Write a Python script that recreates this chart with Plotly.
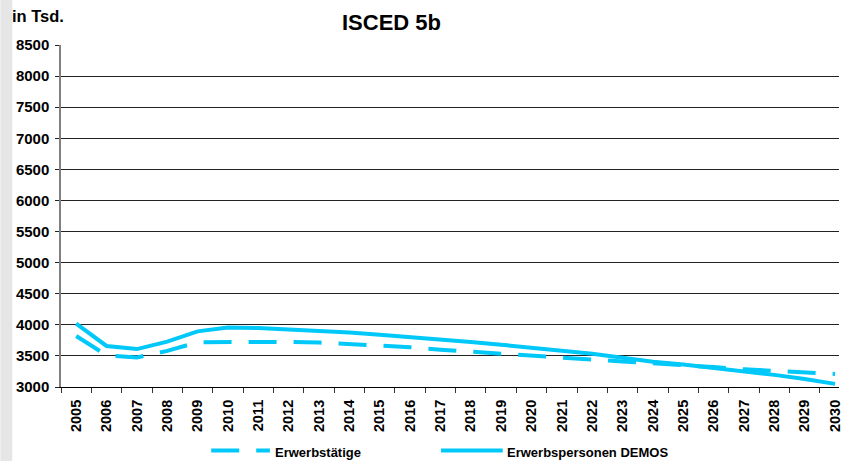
import plotly.graph_objects as go

# Jahre und Werte (in Tsd.)
jahre = [str(j) for j in range(2005, 2031)]
erwerbstaetige = [3820, 3510, 3475, 3580, 3720, 3725, 3735, 3725, 3715, 3690,
                  3670, 3640, 3600, 3565, 3530, 3500, 3470, 3440, 3410, 3385,
                  3360, 3320, 3285, 3265, 3235, 3210]
erwerbspersonen_demos = [4020, 3660, 3610, 3730, 3895, 3955, 3950, 3930, 3905, 3875,
                         3840, 3805, 3765, 3725, 3680, 3635, 3585, 3535, 3470, 3405,
                         3360, 3310, 3250, 3195, 3130, 3050]
y_ticks = list(range(3000, 8501, 500))

FARBE = "#00c8f8"
FONT = "Liberation Sans, Arial, sans-serif"

W, H = 843, 461
L, R, T, B = 61, 0, 45, 74
PW, PH = W - L - R, H - T - B


def px_x(x):
    return (x - L) / PW


def px_y(y):
    return (H - B - y) / PH


fig = go.Figure()
fig.add_trace(go.Scatter(
    x=jahre, y=erwerbstaetige, mode="lines", name="Erwerbstätige",
    line=dict(color=FARBE, width=4, dash="28px,17px"), showlegend=False))
fig.add_trace(go.Scatter(
    x=jahre, y=erwerbspersonen_demos, mode="lines", name="Erwerbspersonen DEMOS",
    line=dict(color=FARBE, width=4), showlegend=False))

shapes = [
    # grauer Randstreifen links
    dict(type="rect", xref="paper", yref="paper", x0=px_x(0), x1=px_x(12),
         y0=px_y(H), y1=px_y(0), fillcolor="#e6e6e6", line=dict(width=0), layer="below"),
    # Legende: Muster
    dict(type="line", xref="paper", yref="paper", x0=px_x(212), x1=px_x(271),
         y0=px_y(450.5), y1=px_y(450.5), line=dict(color=FARBE, width=4, dash="28px,17px")),
    dict(type="line", xref="paper", yref="paper", x0=px_x(443), x1=px_x(505),
         y0=px_y(450.5), y1=px_y(450.5), line=dict(color=FARBE, width=4)),
]

annotations = [
    dict(text="<b>ISCED 5b</b>", xref="paper", yref="paper", x=px_x(393), y=px_y(22),
         showarrow=False, font=dict(family=FONT, size=22, color="#000"),
         xanchor="center", yanchor="middle"),
    dict(text="<b>in Tsd.</b>", xref="paper", yref="paper", x=px_x(10), y=px_y(16),
         showarrow=False, font=dict(family=FONT, size=16.5, color="#000"),
         xanchor="left", yanchor="middle"),
    dict(text="<b>Erwerbstätige</b>", xref="paper", yref="paper", x=px_x(274), y=px_y(452),
         showarrow=False, font=dict(family=FONT, size=13, color="#000"),
         xanchor="left", yanchor="middle"),
    dict(text="<b>Erwerbspersonen DEMOS</b>", xref="paper", yref="paper", x=px_x(507), y=px_y(452),
         showarrow=False, font=dict(family=FONT, size=13, color="#000"),
         xanchor="left", yanchor="middle"),
]

fig.update_layout(
    width=W, height=H,
    margin=dict(l=L, r=R, t=T, b=B, pad=0),
    paper_bgcolor="white", plot_bgcolor="white",
    shapes=shapes, annotations=annotations,
    font=dict(family=FONT, color="#000"),
    xaxis=dict(
        type="category", range=[-0.5, 25.13],
        showgrid=False, zeroline=False,
        showline=True, linecolor="#000", linewidth=1,
        ticks="outside", tickson="boundaries", ticklen=5, tickcolor="#333",
        tickangle=-90, tickfont=dict(family=FONT, size=14.5),
        ticklabelstandoff=6,
        tickprefix="<b>", ticksuffix="</b>",
    ),
    yaxis=dict(
        range=[3000, 8500], tickvals=y_ticks,
        ticktext=[f"<b>{v}</b>" for v in y_ticks],
        showgrid=True, gridcolor="#222", gridwidth=1,
        zeroline=False, showline=True, linecolor="#808080", linewidth=1.5,
        ticks="outside", ticklen=4, tickcolor="#222",
        tickfont=dict(family=FONT, size=15),
        ticklabelstandoff=3,
    ),
)

fig.write_html("out.html")
